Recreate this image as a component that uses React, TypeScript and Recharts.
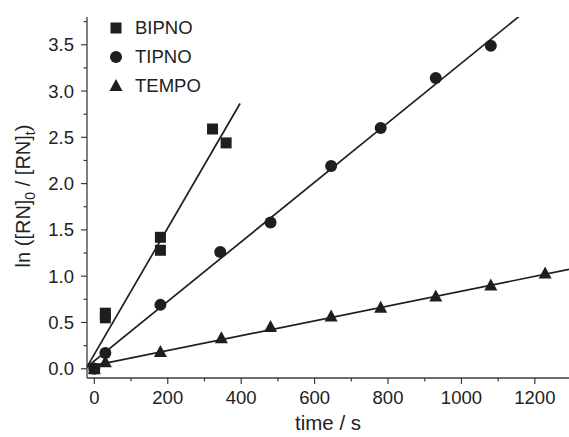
import React from 'react';
import { ScatterChart, Scatter, XAxis, YAxis } from 'recharts';

// measured points (time in s, ln([RN]0/[RN]t))
const BIPNO_T = [0, 30, 30, 180, 180, 322, 359];
const BIPNO_Y = [0.0, 0.55, 0.6, 1.42, 1.28, 2.59, 2.44];

const TIPNO_T = [0, 30, 180, 343, 480, 645, 780, 930, 1080];
const TIPNO_Y = [0.0, 0.17, 0.69, 1.26, 1.58, 2.19, 2.6, 3.14, 3.49];

const TEMPO_T = [0, 30, 180, 346, 480, 645, 780, 930, 1080, 1228];
const TEMPO_Y = [0.0, 0.07, 0.18, 0.33, 0.45, 0.565, 0.66, 0.78, 0.9, 1.03];

// linear fits, start / end points
const BIPNO_FIT_T = [-20, 397];
const BIPNO_FIT_Y = [0.02, 2.865];
const TIPNO_FIT_T = [-20, 1158];
const TIPNO_FIT_Y = [0.02, 3.81];
const TEMPO_FIT_T = [-20, 1293];
const TEMPO_FIT_Y = [0.02, 1.073];

const X_TICKS = [0, 100, 200, 300, 400, 500, 600, 700, 800, 900, 1000, 1100, 1200];
const Y_TICKS = [0, 0.25, 0.5, 0.75, 1, 1.25, 1.5, 1.75, 2, 2.25, 2.5, 2.75, 3, 3.25, 3.5, 3.75];
const LEGEND_NAMES = ['BIPNO', 'TIPNO', 'TEMPO'];

const INK = '#1e1e1e';
const AXIS = '#3c3c3c';
const FONT = '"Liberation Sans", Arial, sans-serif';

const zip = (t: number[], y: number[]) => t.map((x, i) => ({ x, y: y[i] }));

const Square = ({ cx, cy }: any) => <rect x={cx - 5.5} y={cy - 5.5} width={11} height={11} fill={INK} />;
const Circle = ({ cx, cy }: any) => <circle cx={cx} cy={cy} r={6} fill={INK} />;
const Triangle = ({ cx, cy }: any) => (
  <polygon points={`${cx},${cy - 7} ${cx - 6.5},${cy + 5} ${cx + 6.5},${cy + 5}`} fill={INK} />
);
const NoDot = () => <g />;

const XTick = ({ x, y, payload }: any) => {
  const major = payload.value % 200 === 0;
  return (
    <g>
      <line x1={x} x2={x} y1={y} y2={y + (major ? 6 : 3.5)} stroke={AXIS} strokeWidth={1.2} />
      {major && (
        <text x={x} y={y + 26} textAnchor="middle" fontSize={18.5} fill="#222" fontFamily={FONT}>
          {payload.value}
        </text>
      )}
    </g>
  );
};

const YTick = ({ x, y, payload }: any) => {
  const major = Math.abs(payload.value * 2 - Math.round(payload.value * 2)) < 1e-6;
  return (
    <g>
      <line x1={x} x2={x - (major ? 6 : 3.5)} y1={y} y2={y} stroke={AXIS} strokeWidth={1.2} />
      {major && (
        <text x={x - 13} y={y + 6.5} textAnchor="end" fontSize={18.5} fill="#222" fontFamily={FONT}>
          {payload.value.toFixed(1)}
        </text>
      )}
    </g>
  );
};

const LegendBox = () => {
  const marks = [Square, Circle, Triangle];
  return (
    <div style={{ position: 'absolute', top: 13, left: 108, fontFamily: FONT, fontSize: 18.5, color: '#222' }}>
      {LEGEND_NAMES.map((name, i) => {
        const Mark = marks[i];
        return (
          <div key={name} style={{ height: 29, display: 'flex', alignItems: 'center' }}>
            <svg width={16} height={16} style={{ marginRight: 11 }}>
              <Mark cx={8} cy={8} />
            </svg>
            <span>{name}</span>
          </div>
        );
      })}
    </div>
  );
};

export default function App() {
  const lineStyle = { stroke: INK, strokeWidth: 1.7 };
  return (
    <div style={{ position: 'absolute', left: 0, top: 0, width: 569, height: 437, background: '#fff' }}>
      <ScatterChart width={569} height={437} margin={{ top: 17, right: 0, bottom: 0, left: 0 }}>
        <XAxis
          type="number"
          dataKey="x"
          domain={[-20, 1293]}
          allowDataOverflow
          ticks={X_TICKS}
          tick={<XTick />}
          tickSize={0}
          tickMargin={0}
          tickLine={false}
          height={59}
          axisLine={{ stroke: AXIS, strokeWidth: 1.3 }}
          label={{
            content: () => (
              <text x={328} y={430} textAnchor="middle" fontSize={20.5} fill="#222" fontFamily={FONT}>
                time / s
              </text>
            ),
          }}
        />
        <YAxis
          type="number"
          dataKey="y"
          domain={[-0.1, 3.8]}
          allowDataOverflow
          ticks={Y_TICKS}
          tick={<YTick />}
          tickSize={0}
          tickMargin={0}
          tickLine={false}
          width={87}
          axisLine={{ stroke: AXIS, strokeWidth: 1.3 }}
          label={{
            content: () => (
              <text
                x={30}
                y={196}
                transform="rotate(-90 30 196)"
                textAnchor="middle"
                fontSize={20}
                fill="#222"
                fontFamily={FONT}
              >
                ln ([RN]<tspan dy={5} fontSize={14}>0</tspan>
                <tspan dy={-5}> / [RN]</tspan>
                <tspan dy={5} fontSize={14}>t</tspan>
                <tspan dy={-5}>)</tspan>
              </text>
            ),
          }}
        />
        <Scatter name="BIPNO fit" data={zip(BIPNO_FIT_T, BIPNO_FIT_Y)} line={lineStyle} shape={<NoDot />} legendType="none" isAnimationActive={false} />
        <Scatter name="TIPNO fit" data={zip(TIPNO_FIT_T, TIPNO_FIT_Y)} line={lineStyle} shape={<NoDot />} legendType="none" isAnimationActive={false} />
        <Scatter name="TEMPO fit" data={zip(TEMPO_FIT_T, TEMPO_FIT_Y)} line={lineStyle} shape={<NoDot />} legendType="none" isAnimationActive={false} />
        <Scatter name="BIPNO" data={zip(BIPNO_T, BIPNO_Y)} shape={<Square />} isAnimationActive={false} />
        <Scatter name="TIPNO" data={zip(TIPNO_T, TIPNO_Y)} shape={<Circle />} isAnimationActive={false} />
        <Scatter name="TEMPO" data={zip(TEMPO_T, TEMPO_Y)} shape={<Triangle />} isAnimationActive={false} />
      </ScatterChart>
      <LegendBox />
    </div>
  );
}
